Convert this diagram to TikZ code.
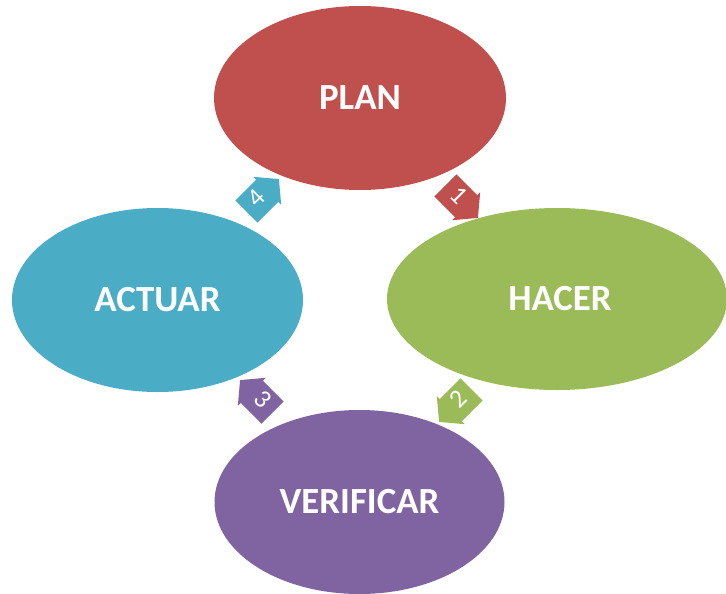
\documentclass[tikz,border=0pt]{standalone}
\usepackage{fontspec}
\setmainfont{Carlito}
\usetikzlibrary{shapes.geometric,shapes.arrows}
\definecolor{planred}{HTML}{C0504D}
\definecolor{hacergreen}{HTML}{9BBB59}
\definecolor{verifpurple}{HTML}{8064A2}
\definecolor{actuarblue}{HTML}{4BACC6}
\tikzset{
  stage/.style={ellipse, inner sep=0pt, minimum width=292bp, minimum height=184bp,
    text=white, font=\fontsize{37}{42}\selectfont\bfseries},
  cyclearrow/.style={single arrow, draw=none, inner xsep=3bp, inner ysep=8bp,
    text height=13bp, text depth=2bp, minimum height=46bp, single arrow head extend=4bp,
    single arrow tip angle=100, text=white, font=\fontsize{26}{28}\selectfont}
}
\begin{document}
\begin{tikzpicture}[x=1bp,y=-1bp]
  \useasboundingbox (0,0) rectangle (726,594);
  \begin{scope}
    \clip (0,0) rectangle (726,594);
    \node[stage, fill=planred] (plan) at (360,98) {PLAN};
    \node[stage, fill=hacergreen, minimum width=340bp, minimum height=182bp] (hacer) at (557,299) {\hspace*{6bp}HACER};
    \node[stage, fill=verifpurple, minimum width=290bp] (verif) at (359.5,502) {VERIFICAR};
    \node[stage, fill=actuarblue, minimum width=291bp] (actuar) at (157.5,300) {ACTUAR};
  \end{scope}
  % numbered step arrows around the cycle
  \node[cyclearrow, fill=planred, rotate=-45] (a1) at (457,197) {1};
  \node[cyclearrow, fill=hacergreen, rotate=45, shape border rotate=180] (a2) at (460,401) {2};
  \node[cyclearrow, fill=verifpurple, rotate=-45, shape border rotate=180] (a3) at (261,401) {3};
  \node[cyclearrow, fill=actuarblue, rotate=45] (a4) at (258,200) {4};
\end{tikzpicture}
\end{document}
